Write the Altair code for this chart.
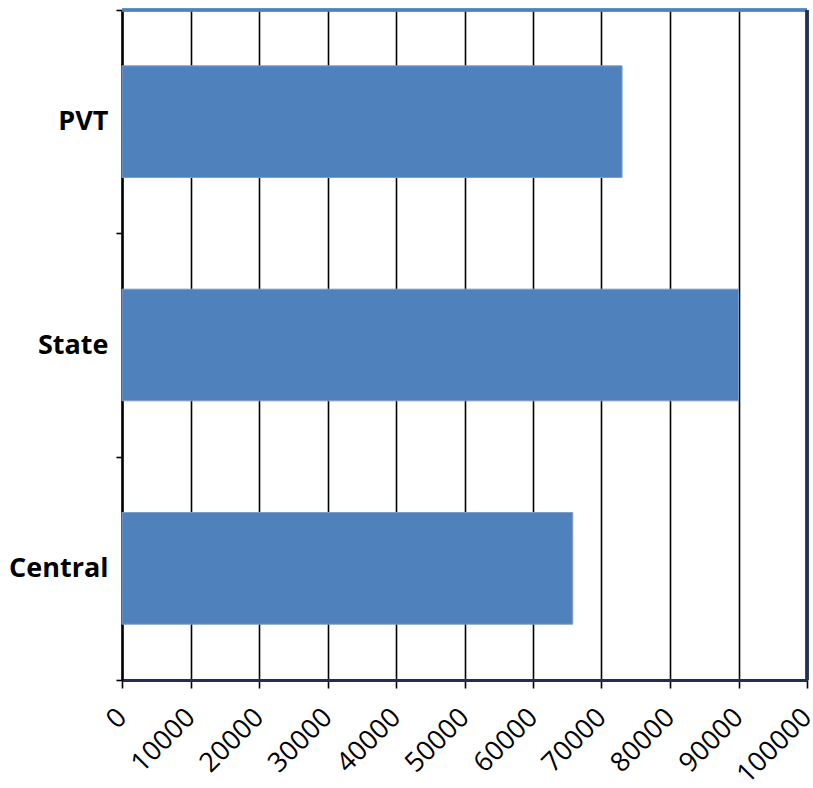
import altair as alt
import pandas as pd

categories = ["PVT", "State", "Central"]
values = [73000, 90000, 65800]
x_ticks = [0, 10000, 20000, 30000, 40000, 50000, 60000, 70000, 80000, 90000, 100000]

df = pd.DataFrame({"cat": categories, "val": values})

W, H = 685, 670
FONT = "Open Sans"

bars = alt.Chart(df).mark_bar(color="#4f81bd", stroke="#7f9cc4", strokeWidth=1,
                              height={"band": 0.5}).encode(
    x=alt.X("val:Q",
            scale=alt.Scale(domain=[0, 100000], nice=False),
            axis=alt.Axis(values=x_ticks, format="d", title=None, labelAngle=-45, labelAlign="right",
                          labelBaseline="middle", labelFont=FONT, labelFontSize=27,
                          labelColor="#000000", labelPadding=25, labelFlush=False,
                          labelOverlap=False,
                          grid=True, gridColor="#000000", gridWidth=1.6, gridOpacity=1,
                          domainColor="#1f3050", domainWidth=3,
                          tickColor="#000000", tickSize=8, tickWidth=1.6)),
    y=alt.Y("cat:N", sort=categories,
            scale=alt.Scale(paddingInner=0, paddingOuter=0),
            axis=alt.Axis(title=None, labelFont=FONT, labelFontSize=27, labelFontWeight="bold",
                          labelColor="#000000", labelPadding=8, tickBand="extent",
                          domainColor="#000000", domainWidth=2.5,
                          tickColor="#000000", tickSize=6, tickWidth=1.6, grid=False)),
)

top_line = alt.Chart(df).mark_rule(color="#4f81bd", strokeWidth=3).encode(
    x=alt.value(0), x2=alt.value(W), y=alt.value(0)
)
right_line = alt.Chart(df).mark_rule(color="#1f3050", strokeWidth=3).encode(
    x=alt.value(W), y=alt.value(0), y2=alt.value(H)
)

chart = alt.layer(bars, top_line, right_line).properties(
    width=W, height=H,
    autosize=alt.AutoSizeParams(type="none"),
    padding={"left": 122, "top": 10, "right": 6, "bottom": 108},
    background="white",
).configure_view(stroke=None)

chart.save("out.html", embed_options={"renderer": "svg", "actions": False})
